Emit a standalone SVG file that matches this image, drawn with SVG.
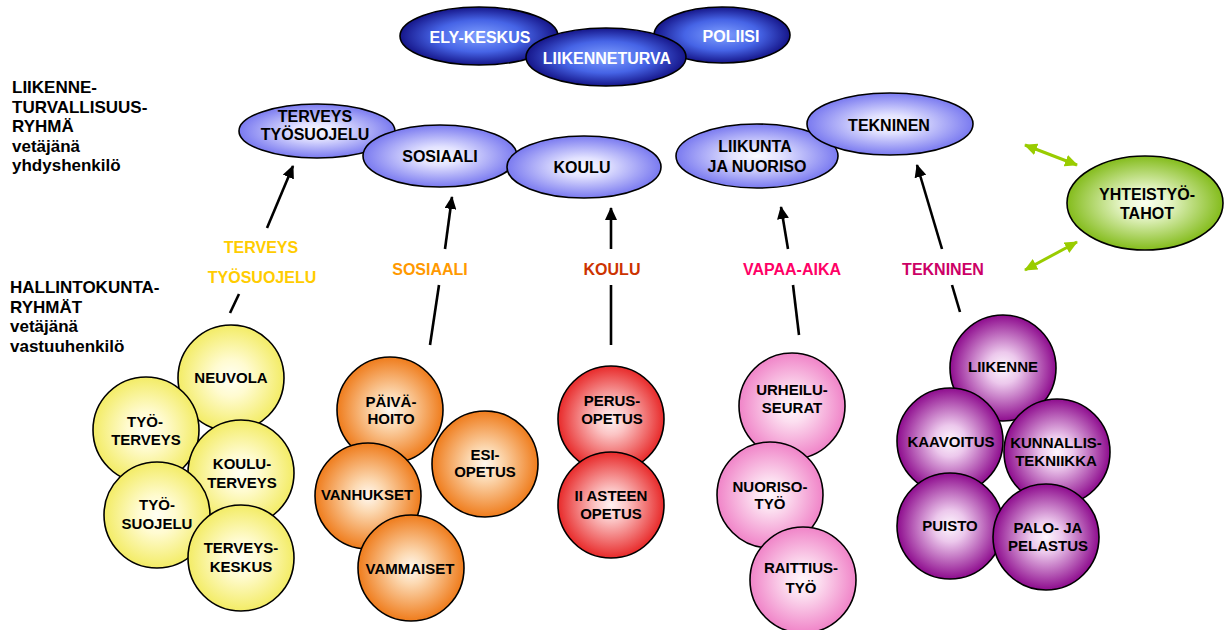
<svg xmlns="http://www.w3.org/2000/svg" width="1224" height="630" viewBox="0 0 1224 630">
<defs>
<radialGradient id="gBlue" cx="50%" cy="50%" r="50%"><stop offset="0" stop-color="#80a0ff"/><stop offset="0.55" stop-color="#4664e6"/><stop offset="1" stop-color="#16168a"/></radialGradient>
<radialGradient id="gLav" cx="50%" cy="50%" r="50%"><stop offset="0" stop-color="#fafaff"/><stop offset="0.3" stop-color="#e2e2ff"/><stop offset="1" stop-color="#7a7af0"/></radialGradient>
<radialGradient id="gGreen" cx="50%" cy="50%" r="50%"><stop offset="0" stop-color="#fafff0"/><stop offset="0.3" stop-color="#e6f5c8"/><stop offset="1" stop-color="#84bc1c"/></radialGradient>
<radialGradient id="gYel" cx="50%" cy="50%" r="50%"><stop offset="0" stop-color="#fffff4"/><stop offset="0.35" stop-color="#fffbd0"/><stop offset="1" stop-color="#f3ec66"/></radialGradient>
<radialGradient id="gOra" cx="50%" cy="50%" r="50%"><stop offset="0" stop-color="#fff8f0"/><stop offset="0.3" stop-color="#fcd9b2"/><stop offset="1" stop-color="#ef7c1c"/></radialGradient>
<radialGradient id="gRed" cx="50%" cy="50%" r="50%"><stop offset="0" stop-color="#fff2f2"/><stop offset="0.3" stop-color="#fbc4c4"/><stop offset="1" stop-color="#e82a2a"/></radialGradient>
<radialGradient id="gPink" cx="50%" cy="50%" r="50%"><stop offset="0" stop-color="#fff6fb"/><stop offset="0.3" stop-color="#fcdff0"/><stop offset="1" stop-color="#f084c8"/></radialGradient>
<radialGradient id="gPur" cx="50%" cy="50%" r="50%"><stop offset="0" stop-color="#fdf6fd"/><stop offset="0.3" stop-color="#ecc8ec"/><stop offset="1" stop-color="#8e0c8e"/></radialGradient>
<marker id="ah" markerUnits="userSpaceOnUse" markerWidth="14" markerHeight="12" refX="12" refY="6" orient="auto"><path d="M0,0 L13,6 L0,12 z" fill="#000"/></marker>
<marker id="gh" markerUnits="userSpaceOnUse" markerWidth="14" markerHeight="12" refX="12" refY="6" orient="auto-start-reverse"><path d="M0,0 L13,6 L0,12 z" fill="#99cc00"/></marker>
</defs>
<style>
text{font-family:"Liberation Sans",Arial,sans-serif;font-weight:bold;}
.sh{stroke:#000;stroke-width:1.6;}
.tw{fill:#fff;font-size:16px;text-anchor:middle;}
.tm{fill:#000;font-size:16px;text-anchor:middle;}
.tc{fill:#000;font-size:15px;text-anchor:middle;}
.side{fill:#000;font-size:17px;}
.lab{font-size:16px;text-anchor:middle;}
.arr{stroke:#000;stroke-width:2.6;fill:none;}
.garr{stroke:#99cc00;stroke-width:3;fill:none;}
</style>

<g id="side-labels">
<text class="side" x="12" y="93">LIIKENNE-</text>
<text class="side" x="12" y="112.5">TURVALLISUUS-</text>
<text class="side" x="12" y="132">RYHMÄ</text>
<text class="side" x="12" y="151.5">vetäjänä</text>
<text class="side" x="12" y="171">yhdyshenkilö</text>
<text class="side" x="10" y="293">HALLINTOKUNTA-</text>
<text class="side" x="10" y="312.5">RYHMÄT</text>
<text class="side" x="10" y="332">vetäjänä</text>
<text class="side" x="10" y="351.5">vastuuhenkilö</text>
</g>

<g id="top">
<g id="ely"><ellipse class="sh" cx="479" cy="36" rx="79" ry="29" fill="url(#gBlue)"/><text class="tw" x="480" y="43">ELY-KESKUS</text></g>
<g id="poliisi"><ellipse class="sh" cx="722" cy="35" rx="68" ry="28" fill="url(#gBlue)"/><text class="tw" x="731" y="42">POLIISI</text></g>
<g id="liikenneturva"><ellipse class="sh" cx="606" cy="57" rx="80" ry="29" fill="url(#gBlue)"/><text class="tw" x="607" y="64">LIIKENNETURVA</text></g>
</g>

<g id="middle">
<g id="m-terveys"><ellipse class="sh" cx="317" cy="131" rx="78" ry="27" fill="url(#gLav)"/><text class="tm" x="315" y="121.5">TERVEYS</text><text class="tm" x="315" y="140">TYÖSUOJELU</text></g>
<g id="m-sosiaali"><ellipse class="sh" cx="440" cy="156" rx="77" ry="31" fill="url(#gLav)"/><text class="tm" x="440" y="162">SOSIAALI</text></g>
<g id="m-koulu"><ellipse class="sh" cx="584" cy="167" rx="77" ry="31" fill="url(#gLav)"/><text class="tm" x="582" y="173">KOULU</text></g>
<g id="m-liikunta"><ellipse class="sh" cx="757" cy="156" rx="81" ry="32" fill="url(#gLav)"/><text class="tm" x="755" y="151.5">LIIKUNTA</text><text class="tm" x="757" y="172">JA NUORISO</text></g>
<g id="m-tekninen"><ellipse class="sh" cx="890" cy="124" rx="83" ry="31" fill="url(#gLav)"/><text class="tm" x="889" y="130.5">TEKNINEN</text></g>
</g>

<g id="yhteistyo"><ellipse class="sh" cx="1145" cy="203" rx="78" ry="47" fill="url(#gGreen)"/><text class="tm" x="1147" y="200">YHTEISTYÖ-</text><text class="tm" x="1147" y="218.5">TAHOT</text></g>

<g id="group-labels">
<text class="lab" x="261" y="252.5" fill="#ffcc00">TERVEYS</text>
<text class="lab" x="262" y="282.5" fill="#ffcc00">TYÖSUOJELU</text>
<text class="lab" x="430" y="275" fill="#ff9900">SOSIAALI</text>
<text class="lab" x="612" y="275" fill="#cc3300">KOULU</text>
<text class="lab" x="792" y="274.5" fill="#ff0066">VAPAA-AIKA</text>
<text class="lab" x="943" y="274.5" fill="#cc0066">TEKNINEN</text>
</g>

<g id="connectors">
<line class="arr" x1="230" y1="313" x2="239" y2="294"/>
<line class="arr" x1="267" y1="228" x2="293" y2="166" marker-end="url(#ah)"/>
<line class="arr" x1="430" y1="345" x2="439" y2="285"/>
<line class="arr" x1="445" y1="249" x2="452" y2="197" marker-end="url(#ah)"/>
<line class="arr" x1="611" y1="345" x2="611" y2="285"/>
<line class="arr" x1="611" y1="249" x2="611" y2="208" marker-end="url(#ah)"/>
<line class="arr" x1="799" y1="335" x2="793" y2="285"/>
<line class="arr" x1="788" y1="249" x2="781" y2="207" marker-end="url(#ah)"/>
<line class="arr" x1="960" y1="312" x2="952" y2="285"/>
<line class="arr" x1="942" y1="249" x2="917" y2="165" marker-end="url(#ah)"/>
<line class="garr" x1="1025" y1="145" x2="1077" y2="165" marker-start="url(#gh)" marker-end="url(#gh)"/>
<line class="garr" x1="1025" y1="270" x2="1077" y2="242" marker-start="url(#gh)" marker-end="url(#gh)"/>
</g>

<g id="terveys-group">
<g id="neuvola"><circle class="sh" cx="231" cy="378" r="53" fill="url(#gYel)"/><text class="tc" x="231" y="383">NEUVOLA</text></g>
<g id="tyoterveys"><circle class="sh" cx="146" cy="430" r="53" fill="url(#gYel)"/><text class="tc" x="145" y="427">TYÖ-</text><text class="tc" x="146" y="445">TERVEYS</text></g>
<g id="kouluterveys"><circle class="sh" cx="241" cy="473" r="53" fill="url(#gYel)"/><text class="tc" x="242" y="469">KOULU-</text><text class="tc" x="242" y="488">TERVEYS</text></g>
<g id="tyosuojelu"><circle class="sh" cx="157" cy="515" r="53" fill="url(#gYel)"/><text class="tc" x="157" y="510">TYÖ-</text><text class="tc" x="157" y="529">SUOJELU</text></g>
<g id="terveyskeskus"><circle class="sh" cx="241" cy="558" r="53" fill="url(#gYel)"/><text class="tc" x="241" y="553">TERVEYS-</text><text class="tc" x="241" y="572">KESKUS</text></g>
</g>

<g id="sosiaali-group">
<g id="paivahoito"><circle class="sh" cx="390" cy="410" r="53" fill="url(#gOra)"/><text class="tc" x="391" y="407">PÄIVÄ-</text><text class="tc" x="391" y="424">HOITO</text></g>
<g id="esiopetus"><circle class="sh" cx="485" cy="464" r="53" fill="url(#gOra)"/><text class="tc" x="485" y="460">ESI-</text><text class="tc" x="485" y="477">OPETUS</text></g>
<g id="vanhukset"><circle class="sh" cx="368" cy="496" r="53" fill="url(#gOra)"/><text class="tc" x="367" y="500">VANHUKSET</text></g>
<g id="vammaiset"><circle class="sh" cx="411" cy="568" r="53" fill="url(#gOra)"/><text class="tc" x="410" y="574">VAMMAISET</text></g>
</g>

<g id="koulu-group">
<g id="perusopetus"><circle class="sh" cx="611" cy="419" r="53" fill="url(#gRed)"/><text class="tc" x="612" y="406">PERUS-</text><text class="tc" x="612" y="424">OPETUS</text></g>
<g id="iiasteen"><circle class="sh" cx="611" cy="505" r="53" fill="url(#gRed)"/><text class="tc" x="611" y="501">II ASTEEN</text><text class="tc" x="611" y="519">OPETUS</text></g>
</g>

<g id="vapaa-aika-group">
<g id="urheiluseurat"><circle class="sh" cx="792" cy="406" r="53" fill="url(#gPink)"/><text class="tc" x="792" y="395">URHEILU-</text><text class="tc" x="792" y="413">SEURAT</text></g>
<g id="nuorisotyo"><circle class="sh" cx="770" cy="495" r="53" fill="url(#gPink)"/><text class="tc" x="770" y="492">NUORISO-</text><text class="tc" x="770" y="509">TYÖ</text></g>
<g id="raittiustyo"><circle class="sh" cx="803" cy="580" r="53" fill="url(#gPink)"/><text class="tc" x="801" y="573">RAITTIUS-</text><text class="tc" x="801" y="593">TYÖ</text></g>
</g>

<g id="tekninen-group">
<g id="liikenne"><circle class="sh" cx="1003" cy="368" r="53" fill="url(#gPur)"/><text class="tc" x="1003" y="372">LIIKENNE</text></g>
<g id="kaavoitus"><circle class="sh" cx="950" cy="441" r="53" fill="url(#gPur)"/><text class="tc" x="951" y="447">KAAVOITUS</text></g>
<g id="kunnallistekniikka"><circle class="sh" cx="1057" cy="452" r="53" fill="url(#gPur)"/><text class="tc" x="1056" y="448">KUNNALLIS-</text><text class="tc" x="1056" y="466">TEKNIIKKA</text></g>
<g id="puisto"><circle class="sh" cx="950" cy="526" r="53" fill="url(#gPur)"/><text class="tc" x="950" y="531">PUISTO</text></g>
<g id="palo"><circle class="sh" cx="1046" cy="537" r="53" fill="url(#gPur)"/><text class="tc" x="1048" y="533">PALO- JA</text><text class="tc" x="1048" y="551">PELASTUS</text></g>
</g>
</svg>
